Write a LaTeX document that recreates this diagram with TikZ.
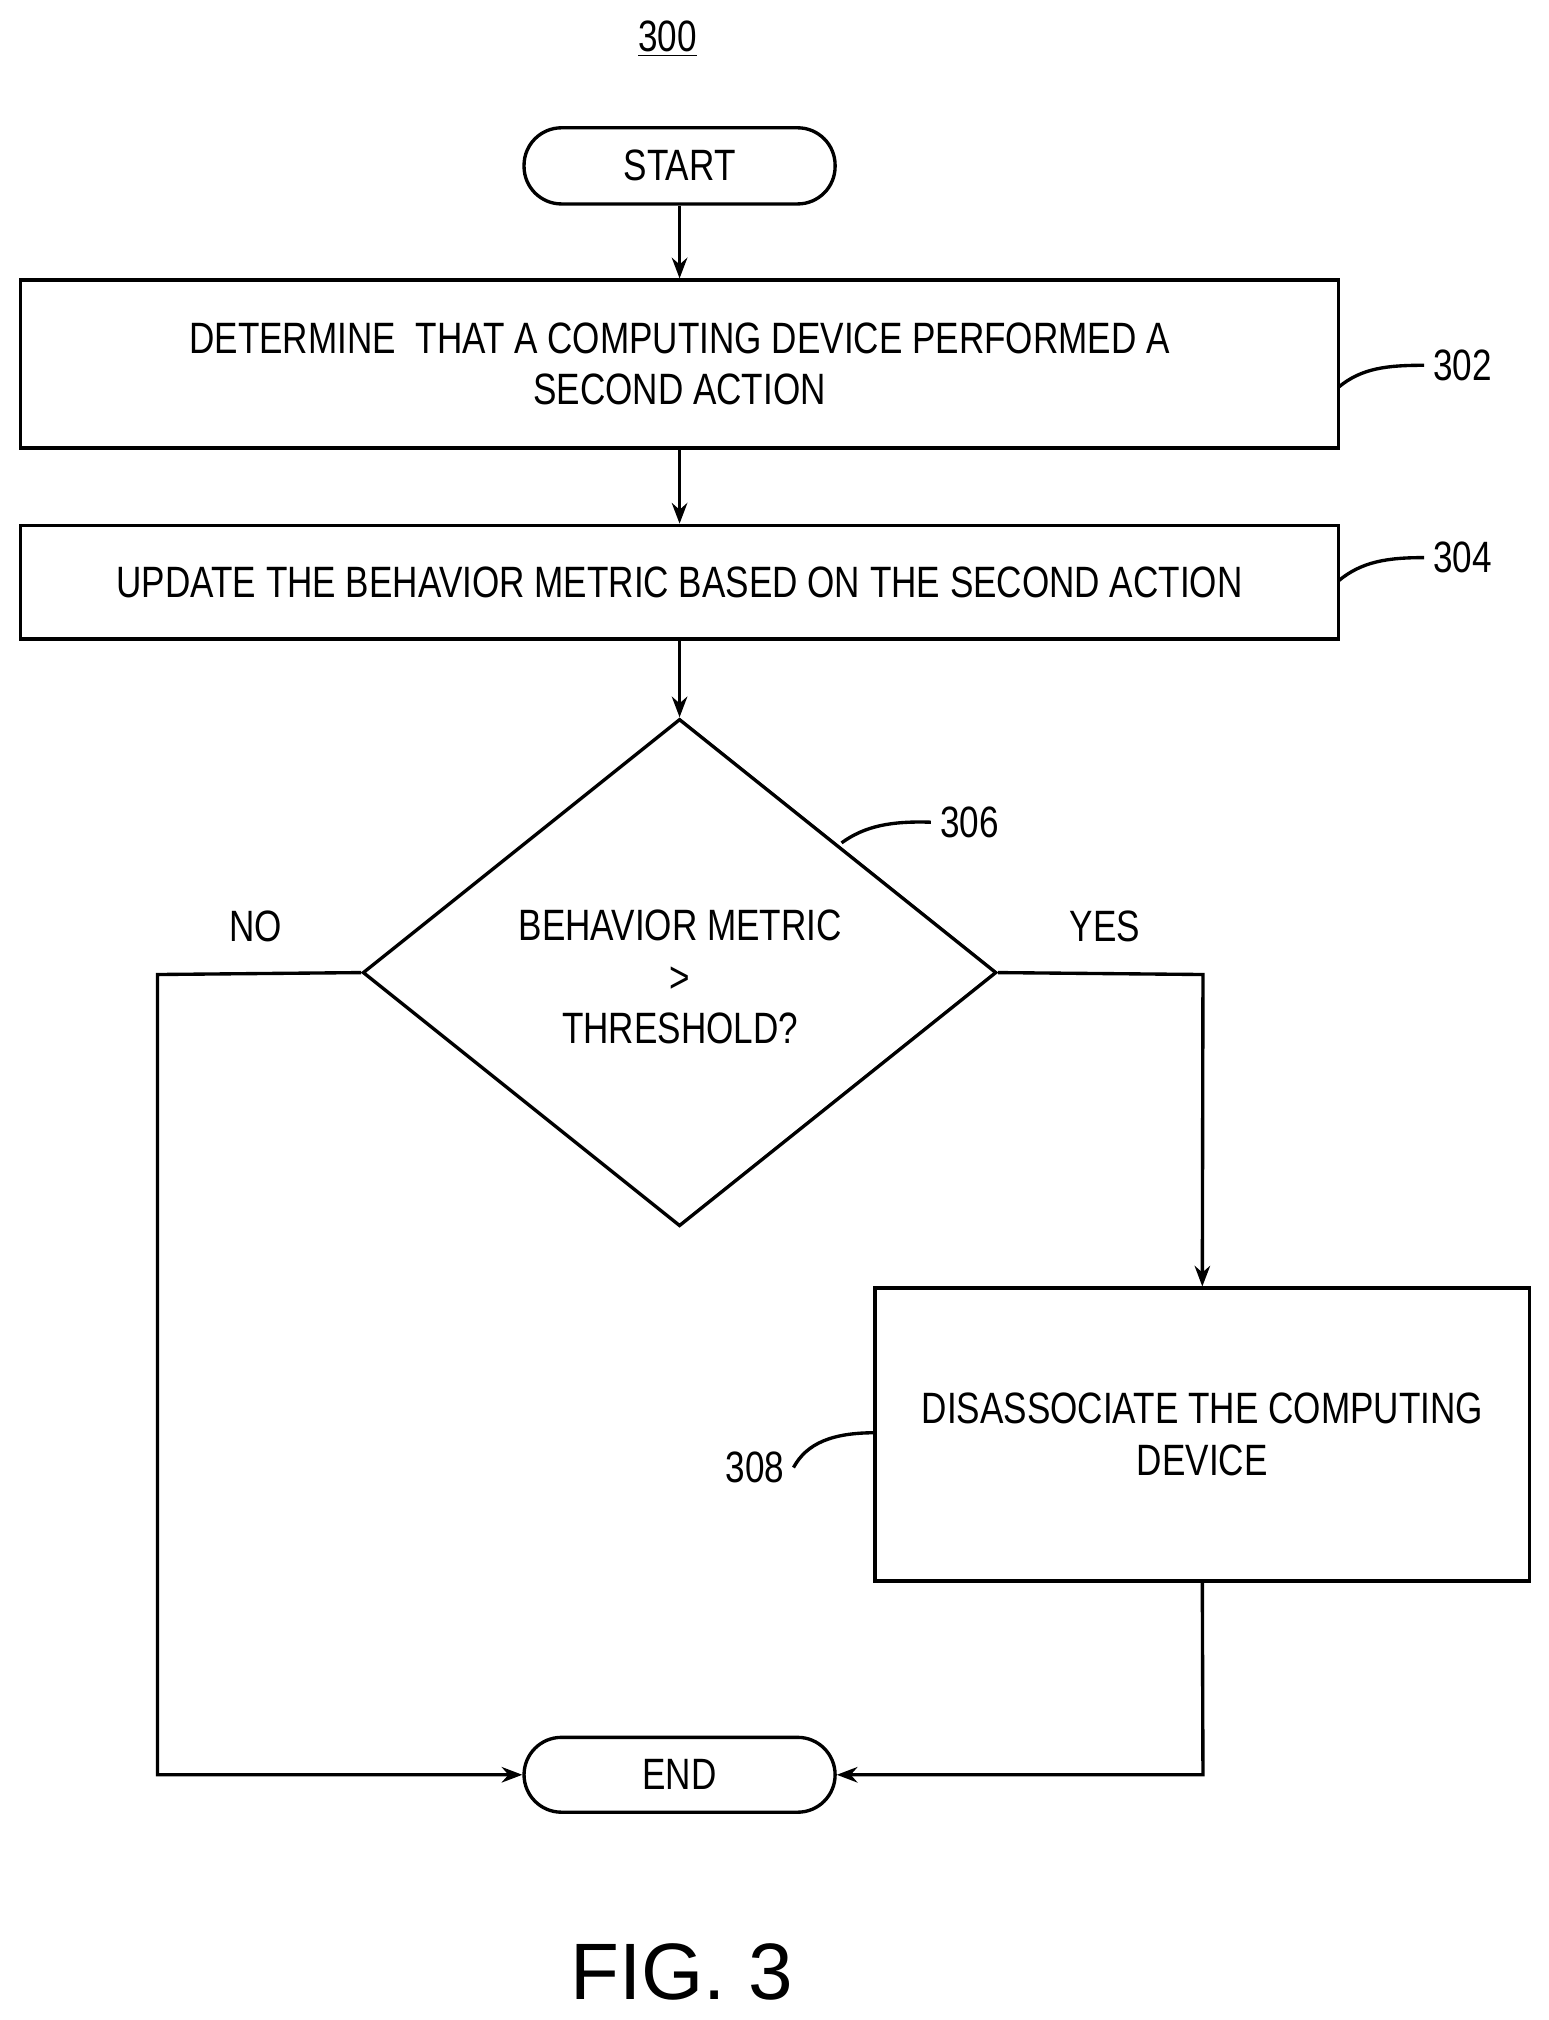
\documentclass[tikz,border=0pt]{standalone}
\usepackage{fontspec}
\setmainfont{Liberation Sans}[FakeStretch=0.8]
\newfontfamily\figfont{Liberation Sans}
\usetikzlibrary{shapes.geometric,arrows.meta}
\begin{document}
\begin{tikzpicture}[x=0.5pt,y=-0.5pt,
  lw/.style={line width=1.3pt},
  box/.style={draw,lw,inner sep=0pt,align=center,font=\fontsize{17}{20}\selectfont},
  term/.style={box,rounded corners=14.5pt},
  lab/.style={font=\fontsize{17}{20}\selectfont},
  arr/.style={lw,-{Stealth[length=8pt,width=6pt]}}]
\useasboundingbox (0,0) rectangle (1200,1565);
\node[lab] (n300) at (517,30) {\underline{300}};
\node[term,minimum width=120.5pt,minimum height=29.5pt] (start) at (526.5,128.5) {START};
\node[box,minimum width=510.5pt,minimum height=65pt] (b302) at (526.5,282) {DETERMINE\ \ THAT A COMPUTING DEVICE PERFORMED A\\SECOND ACTION};
\node[box,minimum width=510.5pt,minimum height=44pt] (b304) at (526.5,451) {UPDATE THE BEHAVIOR METRIC BASED ON THE SECOND ACTION};
\node[draw,lw,diamond,aspect=1.25,minimum width=245.5pt,minimum height=196.5pt,inner sep=0pt] (d306) at (526.5,753.5) {};
\node[lab,align=center] (dtext) at (527,757) {BEHAVIOR METRIC\\>\\THRESHOLD?};
\node[box,minimum width=253.5pt,minimum height=113.5pt] (b308) at (931.5,1111.5) {DISASSOCIATE THE COMPUTING\\DEVICE};
\node[term,minimum width=120.5pt,minimum height=29pt] (end) at (526.5,1375) {END};
\node[lab] (n302) at (1133,283) {302};
\node[lab] (n304) at (1133,432) {304};
\node[lab] (n306) at (751,637) {306};
\node[lab] (n308) at (585,1137) {308};
\node[lab] (no) at (198,718) {NO};
\node[lab] (yes) at (856,718) {YES};
\node[font=\figfont\fontsize{31}{36}\selectfont] (fig) at (528,1528) {FIG. 3};
\coordinate (c1) at (122,755);
\coordinate (c2) at (122,1375);
\coordinate (c3) at (932,755);
\coordinate (c4) at (932,1375);
\draw[arr] (start) -- (b302);
\draw[arr] (b302) -- (b304);
\draw[arr] (b304) -- (d306.north);
\draw[arr] (d306.west) -- (c1) -- (c2) -- (end.west);
\draw[arr] (d306.east) -- (c3) -- (b308.north);
\draw[arr] (b308.south) -- (c4) -- (end.east);
\draw[lw] (1037,300) .. controls (1055,285) and (1075,283) .. (n302.west);
\draw[lw] (1037,450) .. controls (1055,435) and (1075,432) .. (n304.west);
\draw[lw] (652,653) .. controls (670,640) and (690,636) .. (n306.west);
\draw[lw] (n308.east) .. controls (625,1118) and (645,1110) .. (678,1110);
\end{tikzpicture}
\end{document}
